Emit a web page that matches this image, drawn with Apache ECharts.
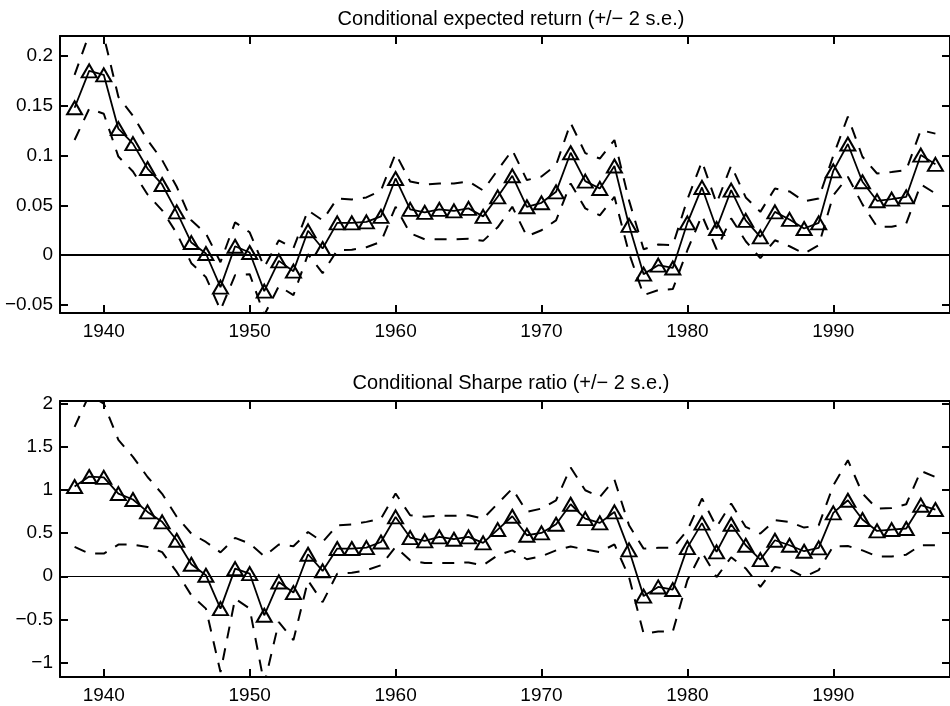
<!DOCTYPE html>
<html>
<head>
<meta charset="utf-8">
<script src="https://cdn.jsdelivr.net/npm/echarts@6/dist/echarts.min.js"></script>
<style>
html,body{margin:0;padding:0;background:#fff;}
#chart{width:950px;height:706px;}
</style>
</head>
<body>
<div id="chart"></div>
<script>
const years = [1938,1939,1940,1941,1942,1943,1944,1945,1946,1947,1948,1949,1950,1951,1952,1953,1954,1955,1956,1957,1958,1959,1960,1961,1962,1963,1964,1965,1966,1967,1968,1969,1970,1971,1972,1973,1974,1975,1976,1977,1978,1979,1980,1981,1982,1983,1984,1985,1986,1987,1988,1989,1990,1991,1992,1993,1994,1995,1996,1997];

const erMean = [0.148,0.185,0.181,0.127,0.112,0.087,0.071,0.0435,0.0127,0.0017,-0.032,0.009,0.0027,-0.036,-0.0057,-0.016,0.0245,0.0067,0.0325,0.0325,0.0335,0.039,0.077,0.046,0.043,0.046,0.0445,0.047,0.039,0.0586,0.0797,0.0486,0.0526,0.0636,0.1028,0.0744,0.067,0.0895,0.030,-0.019,-0.010,-0.0128,0.0325,0.068,0.0268,0.0653,0.035,0.0184,0.0435,0.0359,0.0268,0.0325,0.0847,0.1116,0.0737,0.0546,0.0563,0.0586,0.1005,0.0912];
const erUpper = [0.181,0.222,0.220,0.159,0.140,0.1156,0.0955,0.0687,0.035,0.0218,-0.007,0.033,0.023,-0.012,0.015,0.007,0.045,0.035,0.057,0.056,0.058,0.065,0.102,0.074,0.071,0.072,0.072,0.074,0.065,0.0854,0.1055,0.0754,0.079,0.0905,0.1327,0.1025,0.097,0.1156,0.055,0.006,0.0107,0.010,0.056,0.094,0.052,0.09,0.058,0.0435,0.067,0.064,0.054,0.057,0.10,0.139,0.0988,0.082,0.0835,0.0854,0.1256,0.122];
const erLower = [0.1156,0.147,0.142,0.099,0.084,0.061,0.045,0.022,-0.008,-0.022,-0.055,-0.020,-0.019,-0.060,-0.031,-0.040,0.001,-0.018,0.005,0.0055,0.008,0.0134,0.0486,0.022,0.016,0.016,0.016,0.0164,0.0144,0.028,0.0486,0.019,0.025,0.035,0.072,0.047,0.040,0.0586,0.002,-0.040,-0.035,-0.034,0.005,0.040,0.006,0.037,0.014,-0.003,0.015,0.009,0.0017,0.010,0.060,0.0787,0.051,0.0285,0.0285,0.0318,0.071,0.062];

const srMean = [1.04,1.155,1.145,0.958,0.889,0.745,0.63,0.417,0.139,0.012,-0.375,0.089,0.031,-0.452,-0.066,-0.189,0.255,0.062,0.321,0.321,0.332,0.397,0.687,0.448,0.409,0.456,0.429,0.456,0.386,0.541,0.695,0.475,0.502,0.602,0.834,0.668,0.618,0.745,0.305,-0.23,-0.124,-0.154,0.332,0.615,0.282,0.602,0.359,0.193,0.417,0.359,0.29,0.328,0.734,0.88,0.657,0.525,0.541,0.553,0.823,0.773];
const srUpper = [1.73,2.1,2.0,1.58,1.383,1.15,0.955,0.69,0.494,0.397,0.277,0.444,0.379,0.232,0.367,0.347,0.513,0.397,0.59,0.6,0.63,0.668,0.958,0.707,0.69,0.7,0.7,0.707,0.668,0.842,1.016,0.745,0.784,0.88,1.26,0.996,0.919,1.12,0.59,0.32,0.33,0.33,0.533,0.9,0.571,0.842,0.571,0.494,0.649,0.63,0.564,0.59,1.05,1.344,0.958,0.784,0.79,0.834,1.22,1.15];
const srLower = [0.34,0.263,0.263,0.367,0.367,0.34,0.28,0.05,-0.22,-0.375,-1.11,-0.26,-0.375,-1.25,-0.53,-0.74,-0.05,-0.3,0.03,0.04,0.07,0.127,0.34,0.185,0.154,0.154,0.154,0.16,0.127,0.243,0.3,0.197,0.23,0.3,0.345,0.31,0.28,0.37,-0.01,-0.664,-0.64,-0.64,-0.046,0.28,-0.01,0.22,0.09,-0.124,0.108,0.08,-0.008,0.07,0.348,0.35,0.3,0.23,0.23,0.25,0.36,0.36];

const xTicks = [1940,1950,1960,1970,1980,1990];
const erTicks = [-0.05,0,0.05,0.1,0.15,0.2];
const srTicks = [-1,-0.5,0,0.5,1,1.5,2];
const titles = ['Conditional expected return (+/\u2212 2 s.e.)', 'Conditional Sharpe ratio (+/\u2212 2 s.e.)'];

const FONT = "'Liberation Sans', Arial, sans-serif";
const FS = 19;

function pairs(vals){ return years.map((y,i)=>[y, vals[i]]); }
function fmt(v){ return (v<0 ? '\u2212' : '') + String(Math.abs(v)); }

function xAx(gi, pos, showLabel){
  return {
    type:'value', gridIndex:gi, position:pos, min:1937, max:1998,
    axisLine:{show:true, onZero:false, lineStyle:{color:'#000', width:2}},
    axisTick:{show:true, inside:true, length:8, customValues:xTicks, lineStyle:{color:'#000', width:2}},
    axisLabel:{show:showLabel, customValues:xTicks, color:'#000', fontFamily:FONT, fontSize:FS, margin:9, formatter:v=>String(v)},
    splitLine:{show:false}
  };
}
function yAx(gi, pos, min, max, ticks, showLabel){
  return {
    type:'value', gridIndex:gi, position:pos, min:min, max:max,
    axisLine:{show:true, onZero:false, lineStyle:{color:'#000', width:2}},
    axisTick:{show:true, inside:true, length:8, customValues:ticks, lineStyle:{color:'#000', width:2}},
    axisLabel:{show:showLabel, customValues:ticks, color:'#000', fontFamily:FONT, fontSize:FS, margin:7, formatter:fmt},
    splitLine:{show:false}
  };
}
function meanSeries(xi, yi, vals, zeroW){
  return {
    type:'line', xAxisIndex:xi, yAxisIndex:yi, data:pairs(vals),
    symbol:'triangle', symbolSize:[15,13], showAllSymbol:true,
    lineStyle:{color:'#000', width:1.8},
    itemStyle:{color:'rgba(255,255,255,0)', borderColor:'#000', borderWidth:2},
    emphasis:{disabled:true}, animation:false, z:3,
    markLine:{silent:true, symbol:'none', label:{show:false}, animation:false,
      lineStyle:{color:'#000', width:zeroW, type:'solid'}, data:[{yAxis:0}]}
  };
}
function bandSeries(xi, yi, vals){
  return {
    type:'line', xAxisIndex:xi, yAxisIndex:yi, data:pairs(vals),
    symbol:'none', lineStyle:{color:'#000', width:2, type:[12,10]},
    emphasis:{disabled:true}, animation:false, z:2
  };
}

const chart = echarts.init(document.getElementById('chart'), null, {renderer:'canvas'});
chart.setOption({
  animation:false,
  backgroundColor:'#fff',
  title:[
    {text:titles[0], left:506, top:4, textAlign:'center', textStyle:{fontFamily:FONT, fontSize:20, fontWeight:'normal', color:'#000'}},
    {text:titles[1], left:506, top:368, textAlign:'center', textStyle:{fontFamily:FONT, fontSize:20, fontWeight:'normal', color:'#000'}}
  ],
  grid:[
    {left:60, top:36, width:893, height:277},
    {left:60, top:401, width:893, height:276}
  ],
  xAxis:[ xAx(0,'bottom',true), xAx(0,'top',false), xAx(1,'bottom',true), xAx(1,'top',false) ],
  yAxis:[
    yAx(0,'left',-0.058,0.22,erTicks,true), yAx(0,'right',-0.058,0.22,erTicks,false),
    yAx(1,'left',-1.167,2.03,srTicks,true), yAx(1,'right',-1.167,2.03,srTicks,false)
  ],
  series:[
    meanSeries(0,0,erMean,2), bandSeries(0,0,erUpper), bandSeries(0,0,erLower),
    meanSeries(2,2,srMean,1), bandSeries(2,2,srUpper), bandSeries(2,2,srLower)
  ]
});
</script>
</body>
</html>
